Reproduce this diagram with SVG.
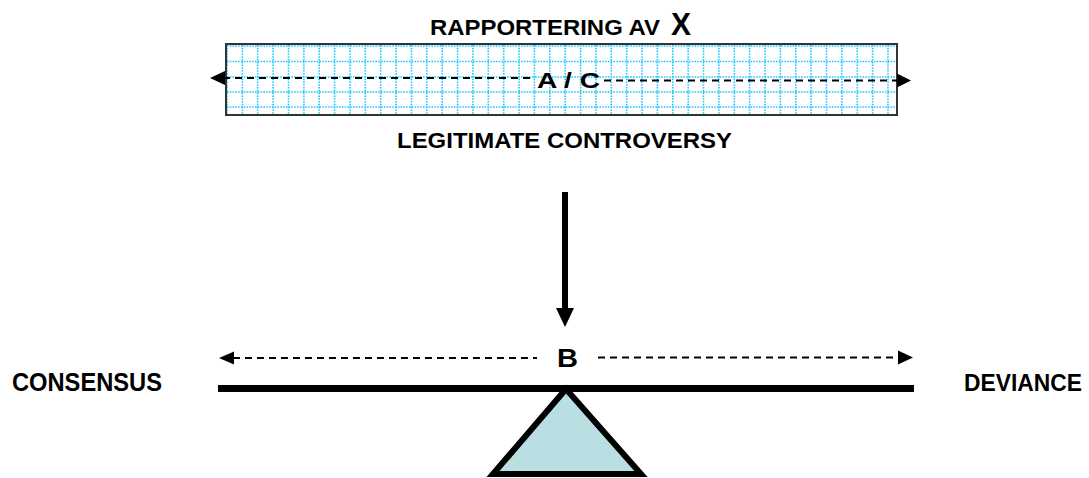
<svg xmlns="http://www.w3.org/2000/svg" width="1089" height="478" viewBox="0 0 1089 478">
<style>
.t{font-family:"Liberation Sans",Arial,sans-serif;font-weight:bold;fill:#000}
.grid{stroke:#22c8ff;stroke-width:1.6;stroke-dasharray:1.6 1.2;fill:none}
.dash{stroke:#000;stroke-width:2;stroke-dasharray:7 5;fill:none}
.dash2{stroke:#000;stroke-width:1.8;stroke-dasharray:7 5;fill:none}
</style>
<rect width="1089" height="478" fill="#fff"/>
<g id="box">
<rect x="226" y="44" width="671" height="71" fill="#fff"/>
<path class="grid" d="M227,45V115M242.4,45V115M257.7,45V115M273.1,45V115M288.5,45V115M303.9,45V115M319.2,45V115M334.6,45V115M350,45V115M365.3,45V115M380.7,45V115M396.1,45V115M411.5,45V115M426.8,45V115M442.2,45V115M457.6,45V115M472.9,45V115M488.3,45V115M503.7,45V115M519.1,45V115M534.4,45V115M549.8,45V115M565.2,45V115M580.6,45V115M595.9,45V115M611.3,45V115M626.7,45V115M642,45V115M657.4,45V115M672.8,45V115M688.2,45V115M703.5,45V115M718.9,45V115M734.3,45V115M749.6,45V115M765,45V115M780.4,45V115M795.8,45V115M811.1,45V115M826.5,45V115M841.9,45V115M857.3,45V115M872.6,45V115M888,45V115M227,46H896M227,61.5H896M227,77H896M227,92H896M227,107H896"/>
<rect x="226" y="44" width="671" height="71" fill="none" stroke="#333" stroke-width="2"/>
</g>
<g id="title">
<text class="t" x="430" y="35" font-size="22.5" textLength="230" lengthAdjust="spacingAndGlyphs">RAPPORTERING AV</text>
<text class="t" x="671" y="35" font-size="31" textLength="20" lengthAdjust="spacingAndGlyphs">X</text>
</g>
<g id="ac">
<text class="t" x="537" y="88" font-size="22" textLength="63" lengthAdjust="spacingAndGlyphs">A / C</text>
</g>
<g id="legit">
<text class="t" x="397" y="148" font-size="22" textLength="335" lengthAdjust="spacingAndGlyphs">LEGITIMATE CONTROVERSY</text>
</g>
<g id="b">
<text class="t" x="557" y="367" font-size="25" textLength="21" lengthAdjust="spacingAndGlyphs">B</text>
</g>
<g id="consensus">
<text class="t" x="12" y="391" font-size="25" textLength="150" lengthAdjust="spacingAndGlyphs">CONSENSUS</text>
</g>
<g id="deviance">
<text class="t" x="964" y="391" font-size="24" textLength="118" lengthAdjust="spacingAndGlyphs">DEVIANCE</text>
</g>
<g id="seesaw">
<rect x="218" y="385" width="696" height="7" fill="#000"/>
<polygon points="566,389 493,474 641,474" fill="#b9dfe3" stroke="#000" stroke-width="6" stroke-linejoin="miter"/>
</g>
<g id="connectors">
<line class="dash" x1="223" y1="78" x2="531" y2="78"/>
<polygon points="210,78 225,71 225,85" fill="#000"/>
<line class="dash" x1="604" y1="80.5" x2="898" y2="80.5"/>
<polygon points="911,80.5 897,73.5 897,87.5" fill="#000"/>
<line x1="565" y1="192" x2="565" y2="310" stroke="#000" stroke-width="6"/>
<polygon points="556,308 574,308 565,327" fill="#000"/>
<line class="dash2" x1="233" y1="358" x2="537" y2="358"/>
<polygon points="219,358 234,351.5 234,364.5" fill="#000"/>
<line class="dash2" x1="598" y1="357.5" x2="899" y2="357.5"/>
<polygon points="913,357.5 898,350.5 898,364.5" fill="#000"/>
</g>
</svg>
